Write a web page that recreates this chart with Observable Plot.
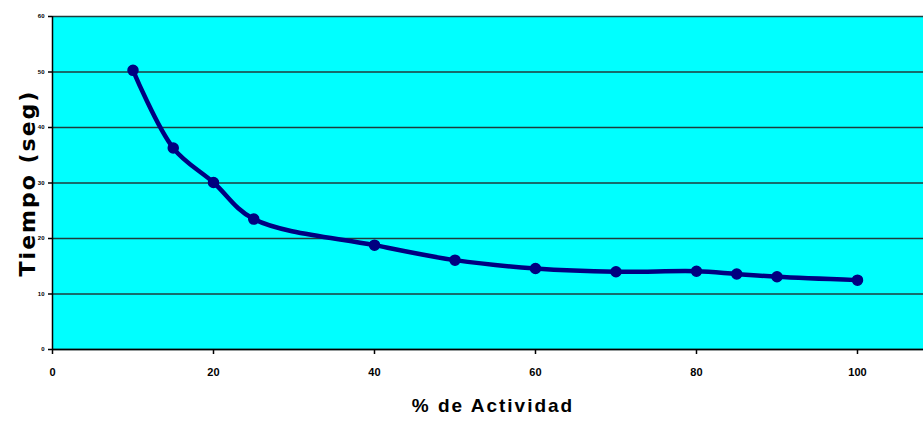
<!DOCTYPE html>
<html>
<head>
<meta charset="utf-8">
<script src="https://cdn.jsdelivr.net/npm/d3@7"></script>
<script src="https://cdn.jsdelivr.net/npm/@observablehq/plot@0.6"></script>
<style>
  html, body { margin: 0; padding: 0; background: #fff; }
  #chart svg { display: block; }
</style>
</head>
<body>
<div id="chart"></div>
<script>
const actividad = [10, 15, 20, 25, 40, 50, 60, 70, 80, 85, 90, 100];
const tiempo = [50.3, 36.3, 30.1, 23.5, 18.8, 16.1, 14.6, 14.0, 14.1, 13.6, 13.1, 12.5];
const xTicks = [0, 20, 40, 60, 80, 100];
const yTicks = [0, 10, 20, 30, 40, 50, 60];
const xTitle = "% de Actividad";
const yTitle = "Tiempo (seg)";

const data = actividad.map((a, i) => ({a, t: tiempo[i]}));

const chart = Plot.plot({
  width: 923,
  height: 427,
  marginLeft: 52,
  marginRight: 0,
  marginTop: 16,
  marginBottom: 78,
  style: {background: "#fff", fontFamily: "'Liberation Sans Narrow', 'Liberation Sans', sans-serif"},
  x: {domain: [0, 108.2]},
  y: {domain: [0, 60]},
  marks: [
    Plot.frame({fill: "#00FFFF", stroke: null}),
    Plot.gridY(yTicks, {stroke: "#1e3c3c", strokeOpacity: 1, strokeWidth: 1.5}),
    Plot.ruleY([0], {stroke: "#000", strokeWidth: 1.5}),
    Plot.ruleX([0], {stroke: "#000", strokeWidth: 1.5}),
    Plot.axisX(xTicks, {tickSize: 5, tickPadding: 14, fontSize: 11, fontWeight: "bold", label: null, stroke: "#000", strokeWidth: 1.5}),
    Plot.axisY(yTicks, {tickSize: 4, tickPadding: 4, fontSize: 6, fontWeight: "bold", label: null, stroke: "#000", strokeWidth: 1.5}),
    Plot.line(data, {x: "a", y: "t", stroke: "#000080", strokeWidth: 4.5, curve: "catmull-rom"}),
    Plot.dot(data, {x: "a", y: "t", r: 5, fill: "#000080", stroke: "#000080"}),
    Plot.text([yTitle], {frameAnchor: "left", textAnchor: "middle", dx: -25, rotate: -90, fontSize: 22, fontWeight: "bold", fill: "#000",
      fontFamily: "'DejaVu Sans', sans-serif", text: d => d}),
    Plot.text([xTitle], {frameAnchor: "bottom", dx: 5, dy: 62, fontSize: 19, fontWeight: "bold", fill: "#000",
      fontFamily: "'Liberation Sans Narrow', 'Liberation Sans', sans-serif", text: d => d})
  ]
});
chart.querySelectorAll("text").forEach(t => {
  if (t.textContent === yTitle) t.style.letterSpacing = "2px";
  if (t.textContent === xTitle) t.style.letterSpacing = "2px";
});
document.getElementById("chart").appendChild(chart);
</script>
</body>
</html>
